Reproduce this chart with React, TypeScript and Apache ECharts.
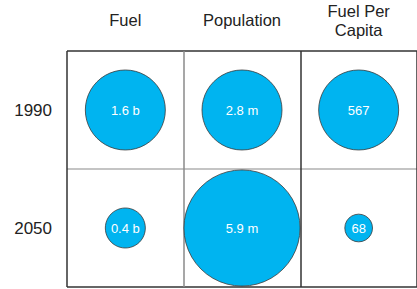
import React, { useEffect, useRef } from 'react';
import * as echarts from 'echarts';

const columns = ['Fuel', 'Population', 'Fuel Per\nCapita'];
const years = ['1990', '2050'];
const fuel = [1.6, 0.4];
const population = [2.8, 5.9];
const fuelPerCapita = [567, 68];
const units = [' b', ' m', ''];

const columnValues = [fuel, population, fuelPerCapita];

export default function App() {
  const ref = useRef<HTMLDivElement>(null);
  useEffect(() => {
    if (!ref.current) return;
    const chart = echarts.init(ref.current, undefined, { renderer: 'svg' });
    const data: any[] = [];
    columnValues.forEach((vals, c) => {
      vals.forEach((v, r) => {
        data.push({
          value: [c, r, v],
          label: { formatter: `${v}${units[c]}` },
          symbolSize: 80 * Math.sqrt(v / vals[0]),
        });
      });
    });
    chart.setOption({
      animation: false,
      textStyle: { fontFamily: 'Liberation Sans, Arial, sans-serif' },
      grid: { left: 67, top: 51, width: 357, height: 236, show: false },
      xAxis: {
        type: 'category',
        data: columns,
        position: 'top',
        boundaryGap: true,
        axisLine: { show: false },
        axisTick: { show: false },
        axisLabel: {
          margin: 31,
          verticalAlign: 'middle',
          fontSize: 16.5,
          lineHeight: 19,
          color: '#222',
          interval: 0,
        },
        splitLine: {
          show: true,
          interval: 0,
          lineStyle: { color: ['#333', '#8a8a8a', '#333', '#333'], width: 1.5 },
        },
      },
      yAxis: {
        type: 'category',
        data: years,
        inverse: true,
        boundaryGap: true,
        axisLine: { show: false },
        axisTick: { show: false },
        axisLabel: { margin: 15, fontSize: 17, color: '#222' },
        splitLine: {
          show: true,
          interval: 0,
          lineStyle: { color: ['#333', '#b0b0b0', '#333'], width: 1.5 },
        },
      },
      series: [
        {
          type: 'scatter',
          data,
          itemStyle: { color: '#00B4F0', borderColor: '#3a3a3a', borderWidth: 0.8, opacity: 1 },
          label: { show: true, position: 'inside', color: '#fff', fontSize: 13 },
          emphasis: { disabled: true },
        },
      ],
    });
    return () => chart.dispose();
  }, []);
  return (
    <div
      ref={ref}
      style={{ position: 'fixed', left: 0, top: 0, width: 417, height: 289, background: '#fff' }}
    />
  );
}
